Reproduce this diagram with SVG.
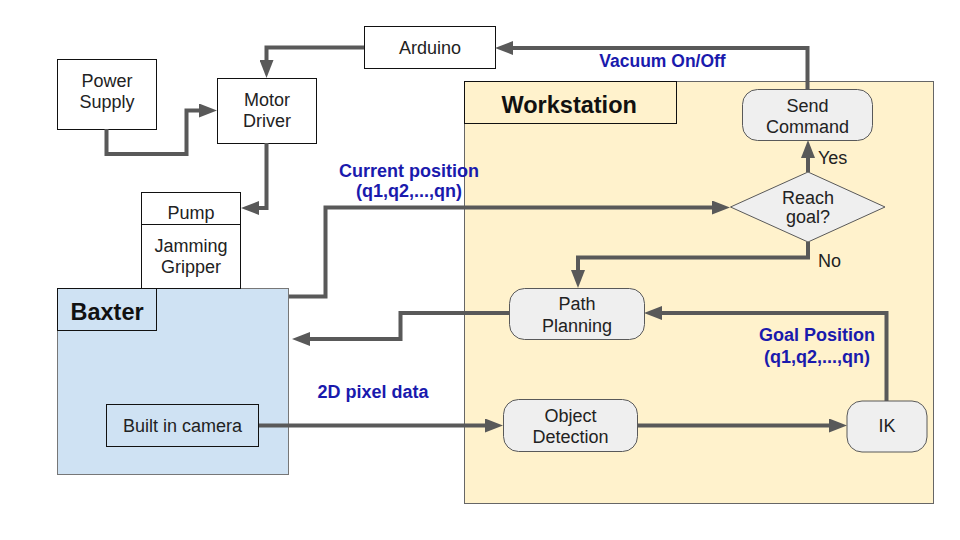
<svg xmlns="http://www.w3.org/2000/svg" width="960" height="540" viewBox="0 0 960 540">
<defs>
<style>
.t{font-family:"Liberation Sans",Arial,sans-serif;font-size:18px;fill:#222;text-anchor:middle}
.b{font-family:"Liberation Sans",Arial,sans-serif;font-size:18px;font-weight:bold;fill:#1a1aad;text-anchor:middle}
.h{font-family:"Liberation Sans",Arial,sans-serif;font-size:23.5px;font-weight:bold;fill:#111}
.box{fill:#fff;stroke:#111;stroke-width:1}
.rn{fill:#efefef;stroke:#595959;stroke-width:1}
.c{fill:none;stroke:#595959;stroke-width:4;marker-end:url(#ah)}
</style>
<marker id="ah" markerWidth="18" markerHeight="14" refX="8" refY="7" orient="auto" markerUnits="userSpaceOnUse"><path d="M0,0 L18,7 L0,14 z" fill="#595959"/></marker>
</defs>
<rect width="960" height="540" fill="#fff"/>
<g id="workstation">
<rect x="464.5" y="81.5" width="469" height="422" fill="#fff2cc" stroke="#666" stroke-width="1"/>
<rect x="464.5" y="81.5" width="212" height="42" fill="#fff2cc" stroke="#111" stroke-width="1"/>
<text class="h" x="501.5" y="112.7">Workstation</text>
</g>
<g id="baxter">
<rect x="57.5" y="288.5" width="231" height="186" fill="#cfe2f3" stroke="#777" stroke-width="1"/>
<rect x="57.5" y="288.5" width="99" height="42" fill="#cfe2f3" stroke="#111" stroke-width="1"/>
<text class="h" x="70.5" y="320">Baxter</text>
</g>
<g id="arduino"><rect class="box" x="364.5" y="26.5" width="131" height="42"/><text class="t" x="430" y="53.5">Arduino</text></g>
<g id="power"><rect class="box" x="57.5" y="59.5" width="99" height="70"/><text class="t" x="107" y="87">Power</text><text class="t" x="107" y="108.3">Supply</text></g>
<g id="motor"><rect class="box" x="217.5" y="78.5" width="99" height="65"/><text class="t" x="267" y="106">Motor</text><text class="t" x="267" y="127.3">Driver</text></g>
<g id="pump"><rect class="box" x="141.5" y="192.5" width="99" height="32"/><text class="t" x="191" y="219">Pump</text></g>
<g id="gripper"><rect class="box" x="141.5" y="224.5" width="99" height="64"/><text class="t" x="191" y="251.7">Jamming</text><text class="t" x="191" y="272.7">Gripper</text></g>
<g id="camera"><rect x="106.5" y="404.5" width="152" height="42" fill="#cfe2f3" stroke="#111" stroke-width="1"/><text class="t" x="182.5" y="431.5">Built in camera</text></g>
<g id="send"><rect class="rn" x="742.5" y="89.5" width="130" height="51" rx="15"/><text class="t" x="807.5" y="111.7">Send</text><text class="t" x="807.5" y="132.7">Command</text></g>
<g id="reach"><polygon class="rn" points="808,172 885,207 808,242 730.5,207"/><text class="t" x="808" y="204.3">Reach</text><text class="t" x="808" y="223.3">goal?</text></g>
<g id="path"><rect class="rn" x="509.5" y="288.5" width="135" height="51" rx="15"/><text class="t" x="577" y="310">Path</text><text class="t" x="577" y="331.7">Planning</text></g>
<g id="detect"><rect class="rn" x="503.5" y="399.5" width="134" height="52" rx="15"/><text class="t" x="570.5" y="421.7">Object</text><text class="t" x="570.5" y="442.7">Detection</text></g>
<g id="ik"><rect class="rn" x="847" y="401" width="80" height="51" rx="15"/><text class="t" x="887" y="431.7">IK</text></g>
<g id="connectors">
<path class="c" d="M364,47.5 H266.5 V68"/>
<path class="c" d="M106.5,129 V154 H186.5 V110.5 H207"/>
<path class="c" d="M266.5,143 V208 H251"/>
<path class="c" d="M289,296.5 H325.5 V207.5 H720"/>
<path class="c" d="M807.5,89 V48 H505"/>
<path class="c" d="M808,172 V150"/>
<path class="c" d="M808,242 V257.5 H578 V278"/>
<path class="c" d="M509,313 H400.5 V339 H302"/>
<path class="c" d="M886.5,401 V313 H654"/>
<path class="c" d="M637,425.5 H837"/>
<path class="c" d="M259,425.5 H493"/>
</g>
<g id="labels">
<text class="b" x="662.5" y="66.7" style="font-size:17.5px">Vacuum On/Off</text>
<text class="b" x="409" y="176.7">Current position</text>
<text class="b" x="409" y="197">(q1,q2,...,qn)</text>
<text class="b" x="817" y="341">Goal Position</text>
<text class="b" x="817" y="363">(q1,q2,...,qn)</text>
<text class="b" x="373" y="398">2D pixel data</text>
<text class="t" x="818" y="164" style="text-anchor:start">Yes</text>
<text class="t" x="818" y="266.7" style="text-anchor:start">No</text>
</g>
</svg>
